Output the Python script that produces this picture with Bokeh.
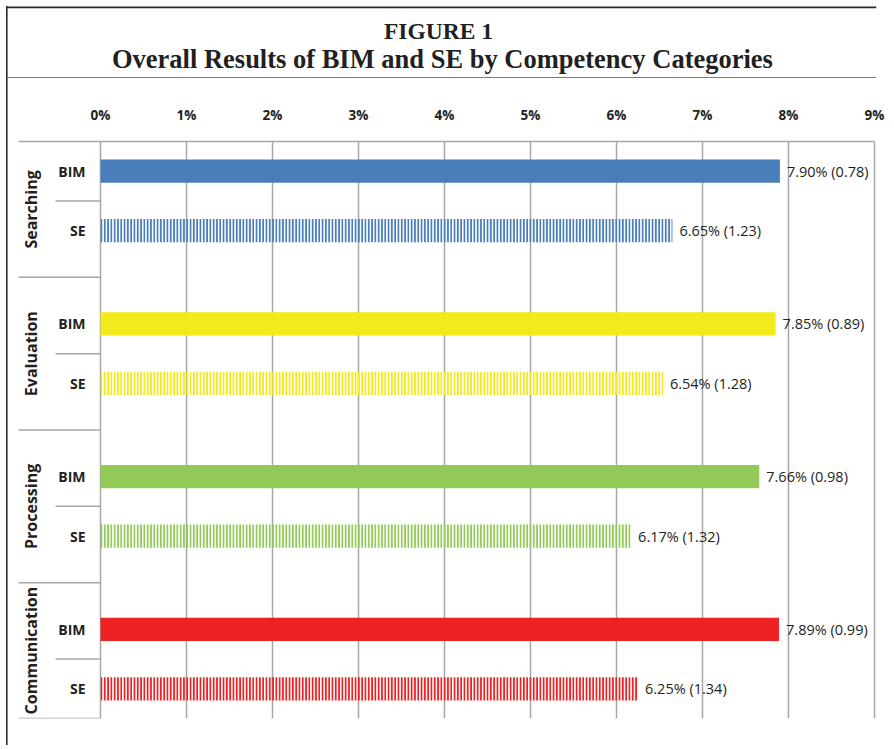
import math
from bokeh.plotting import figure
from bokeh.layouts import column
from bokeh.models import ColumnDataSource, FactorRange, Range1d, FixedTicker
from bokeh.core.properties import value
from bokeh.embed import file_html
from bokeh.resources import INLINE

# ---------------- data ----------------
categories = ["Searching", "Evaluation", "Processing", "Communication"]
groups = ["BIM", "SE"]
bim_values = [7.90, 7.85, 7.66, 7.89]
bim_sd = [0.78, 0.89, 0.98, 0.99]
se_values = [6.65, 6.54, 6.17, 6.25]
se_sd = [1.23, 1.28, 1.32, 1.34]
colors = ["#4a7ebb", "#f2ea1a", "#92c957", "#ee2224"]
tick_values = [0, 1, 2, 3, 4, 5, 6, 7, 8, 9]
tick_labels = ["0%", "1%", "2%", "3%", "4%", "5%", "6%", "7%", "8%", "9%"]
title_line1 = "FIGURE 1"
title_line2 = "Overall Results of BIM and SE by Competency Categories"

# ---------------- styles / layout ----------------
TXT = "#231f20"
GRID = "#a6a6a6"
BOX = "#2a2a2a"
FONT = "Open Sans"
GP = 0.57            # group padding of the category range
PPU = 86.0           # pixels per 1 %
TITLE_H = 78         # title box height
TOTAL_H = 745
MAIN_H = TOTAL_H - TITLE_H
W = 894


def transparent(fig):
    fig.border_fill_alpha = 0
    fig.background_fill_alpha = 0
    fig.outline_line_color = None
    return fig


# ---- title box ----
t = transparent(figure(width=W, height=TITLE_H, x_range=Range1d(0, W), y_range=Range1d(TITLE_H, 0),
                       x_axis_location=None, y_axis_location=None,
                       output_backend="svg", toolbar_location=None,
                       min_border_left=0, min_border_right=0, min_border_top=0, min_border_bottom=0))
t.xgrid.visible = False
t.ygrid.visible = False
t.segment(x0=[6], y0=[6.8], x1=[W], y1=[6.8], line_color=BOX, line_width=1.8)
t.segment(x0=[6], y0=[77.5], x1=[W], y1=[77.5], line_color="#505050", line_width=1.6)
t.text(x=[447], y=[30], text=[title_line1],
       text_align="center", text_baseline="middle",
       text_font=value("Liberation Serif"), text_font_style="bold",
       text_font_size="23.5px", text_color=TXT)
t.text(x=[451], y=[58], text=[title_line2],
       text_align="center", text_baseline="middle",
       text_font=value("Liberation Serif"), text_font_style="bold",
       text_font_size="26.5px", text_color=TXT)

# ---- main chart ----
factors = [(c, g) for c in reversed(categories) for g in reversed(groups)]
y_range = FactorRange(factors=factors, factor_padding=0, group_padding=GP, range_padding=0)
frame_w = W - 18
x_start = -100 / PPU
x_range = Range1d(x_start, x_start + frame_w / PPU)

p = transparent(figure(width=W, height=MAIN_H, x_range=x_range, y_range=y_range,
                       x_axis_location="above", y_axis_location=None,
                       output_backend="svg", toolbar_location=None,
                       min_border_left=0, min_border_right=18,
                       min_border_top=141 - TITLE_H, min_border_bottom=TOTAL_H - 718))

ax = p.xaxis[0]
ax.ticker = FixedTicker(ticks=tick_values)
ax.major_label_overrides = {tv: tl for tv, tl in zip(tick_values, tick_labels)}
ax.bounds = (-82 / PPU, tick_values[-1])
ax.axis_line_color = GRID
ax.axis_line_width = 1.5
ax.major_tick_line_color = None
ax.minor_tick_line_color = None
ax.major_label_text_font = FONT
ax.major_label_text_font_style = "bold"
ax.major_label_text_font_size = "13.5px"
ax.major_label_text_color = TXT
ax.major_label_standoff = 12

p.xgrid.ticker = FixedTicker(ticks=tick_values)
p.xgrid.grid_line_color = GRID
p.xgrid.grid_line_width = 1.5
p.ygrid.visible = False

bim_src = ColumnDataSource(dict(
    y=[(c, "BIM") for c in categories], right=bim_values, color=colors,
    label=[f"{v:.2f}% ({sd:.2f})" for v, sd in zip(bim_values, bim_sd)]))
se_src = ColumnDataSource(dict(
    y=[(c, "SE") for c in categories], right=se_values, color=colors,
    label=[f"{v:.2f}% ({sd:.2f})" for v, sd in zip(se_values, se_sd)]))

p.hbar(y="y", left=0, right="right", height=0.39, fill_color="color",
       line_color=None, source=bim_src)
p.hbar(y="y", left=0, right="right", height=0.39, fill_color=None,
       hatch_pattern="|", hatch_color="color", hatch_scale=3.3, hatch_weight=2.2,
       line_color=None, source=se_src)

for src in (bim_src, se_src):
    p.text(x="right", y="y", text="label", source=src, x_offset=7,
           text_baseline="middle", text_align="left",
           text_font=value(FONT), text_font_size="14.5px", text_color=TXT)

# left category labels
sub_src = ColumnDataSource(dict(
    y=[(c, g) for c in categories for g in groups],
    text=[g for c in categories for g in groups]))
p.text(x=0, y="y", text="text", source=sub_src, x_offset=-15,
       text_align="right", text_baseline="middle",
       text_font=value(FONT), text_font_style="bold", text_font_size="14px",
       text_color=TXT)

half_gap = (1 + GP) / 2
grp_y = []
for i, c in enumerate(categories):
    top = 1.0 + (0.5 if i == 0 else half_gap)
    bottom = -(0.5 if i == len(categories) - 1 else half_gap)
    grp_y.append((c, "SE", (top + bottom) / 2))
grp_src = ColumnDataSource(dict(y=grp_y, text=categories))
p.text(x=0, y="y", text="text", source=grp_src, x_offset=-70, angle=math.pi / 2,
       text_align="center", text_baseline="middle",
       text_font=value(FONT), text_font_style="bold", text_font_size="16px",
       text_color=TXT)

# separators of the category column
sep_y = [(c, "BIM", half_gap) for c in categories[1:]] + [(categories[-1], "SE", -0.5)]
p.segment(x0=-82 / PPU, x1=0, y0=sep_y, y1=sep_y, line_color=GRID, line_width=1.5)
sub_y = [(c, "SE", 0.5) for c in categories]
p.segment(x0=-45 / PPU, x1=0, y0=sub_y, y1=sub_y, line_color=GRID, line_width=1.5)

# outer left border of the figure box (drawn behind the transparent canvases)
layout = column(t, p, spacing=0, styles={
    "overflow": "hidden",
    "background-color": "white",
    "background-image": f"linear-gradient({BOX}, {BOX})",
    "background-size": f"1.6px {TOTAL_H - 6}px",
    "background-position": "6px 6px",
    "background-repeat": "no-repeat",
})
open("out.html", "w").write(file_html(layout, INLINE))
